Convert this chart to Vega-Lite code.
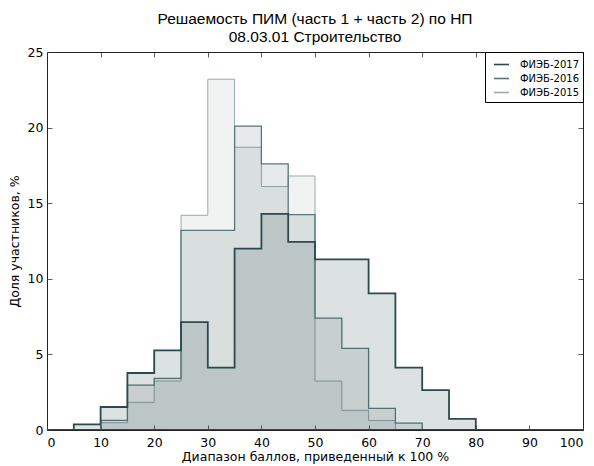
{
  "$schema": "https://vega.github.io/schema/vega-lite/v6.json",
  "width": 536,
  "height": 378,
  "autosize": {"type": "none"},
  "padding": {"left": 47, "top": 52, "right": 11, "bottom": 36},
  "background": "white",
  "config": {
    "view": {"stroke": "#222222", "strokeWidth": 1},
    "font": "DejaVu Sans",
    "axis": {"grid": false, "domain": false, "labelFont": "DejaVu Sans", "titleFont": "DejaVu Sans", "labelColor": "black", "titleColor": "black", "tickColor": "#333333", "labelFontSize": 12.5, "titleFontSize": 12.5, "titleFontWeight": "normal", "tickSize": -5, "tickWidth": 0.8}
  },
  "title": {
    "text": ["Решаемость ПИМ (часть 1 + часть 2) по НП", "08.03.01 Строительство"],
    "font": "Liberation Sans",
    "fontSize": 15.5,
    "fontWeight": "normal",
    "color": "black",
    "anchor": "middle",
    "lineHeight": 18,
    "offset": 1
  },
  "datasets": {
    "hist": [
      {"series": "ФИЭБ-2015", "x": 0, "y": 0}, {"series": "ФИЭБ-2015", "x": 5, "y": 0}, {"series": "ФИЭБ-2015", "x": 10, "y": 0.48}, {"series": "ФИЭБ-2015", "x": 15, "y": 1.83}, {"series": "ФИЭБ-2015", "x": 20, "y": 3.24}, {"series": "ФИЭБ-2015", "x": 25, "y": 14.2}, {"series": "ФИЭБ-2015", "x": 30, "y": 23.2}, {"series": "ФИЭБ-2015", "x": 35, "y": 18.7}, {"series": "ФИЭБ-2015", "x": 40, "y": 16.1}, {"series": "ФИЭБ-2015", "x": 45, "y": 16.8}, {"series": "ФИЭБ-2015", "x": 50, "y": 3.24}, {"series": "ФИЭБ-2015", "x": 55, "y": 1.3}, {"series": "ФИЭБ-2015", "x": 60, "y": 0.63}, {"series": "ФИЭБ-2015", "x": 65, "y": 0}, {"series": "ФИЭБ-2015", "x": 70, "y": 0}, {"series": "ФИЭБ-2015", "x": 75, "y": 0}, {"series": "ФИЭБ-2015", "x": 80, "y": 0}, {"series": "ФИЭБ-2015", "x": 85, "y": 0}, {"series": "ФИЭБ-2015", "x": 90, "y": 0}, {"series": "ФИЭБ-2015", "x": 95, "y": 0}, {"series": "ФИЭБ-2015", "x": 100, "y": 0},
      {"series": "ФИЭБ-2016", "x": 0, "y": 0}, {"series": "ФИЭБ-2016", "x": 5, "y": 0}, {"series": "ФИЭБ-2016", "x": 10, "y": 0.64}, {"series": "ФИЭБ-2016", "x": 15, "y": 2.97}, {"series": "ФИЭБ-2016", "x": 20, "y": 3.41}, {"series": "ФИЭБ-2016", "x": 25, "y": 13.2}, {"series": "ФИЭБ-2016", "x": 30, "y": 13.2}, {"series": "ФИЭБ-2016", "x": 35, "y": 20.1}, {"series": "ФИЭБ-2016", "x": 40, "y": 17.6}, {"series": "ФИЭБ-2016", "x": 45, "y": 14.25}, {"series": "ФИЭБ-2016", "x": 50, "y": 7.4}, {"series": "ФИЭБ-2016", "x": 55, "y": 5.4}, {"series": "ФИЭБ-2016", "x": 60, "y": 1.43}, {"series": "ФИЭБ-2016", "x": 65, "y": 0.46}, {"series": "ФИЭБ-2016", "x": 70, "y": 0}, {"series": "ФИЭБ-2016", "x": 75, "y": 0}, {"series": "ФИЭБ-2016", "x": 80, "y": 0}, {"series": "ФИЭБ-2016", "x": 85, "y": 0}, {"series": "ФИЭБ-2016", "x": 90, "y": 0}, {"series": "ФИЭБ-2016", "x": 95, "y": 0}, {"series": "ФИЭБ-2016", "x": 100, "y": 0},
      {"series": "ФИЭБ-2017", "x": 0, "y": 0}, {"series": "ФИЭБ-2017", "x": 5, "y": 0.37}, {"series": "ФИЭБ-2017", "x": 10, "y": 1.52}, {"series": "ФИЭБ-2017", "x": 15, "y": 3.77}, {"series": "ФИЭБ-2017", "x": 20, "y": 5.26}, {"series": "ФИЭБ-2017", "x": 25, "y": 7.14}, {"series": "ФИЭБ-2017", "x": 30, "y": 4.12}, {"series": "ФИЭБ-2017", "x": 35, "y": 12.0}, {"series": "ФИЭБ-2017", "x": 40, "y": 14.3}, {"series": "ФИЭБ-2017", "x": 45, "y": 12.44}, {"series": "ФИЭБ-2017", "x": 50, "y": 11.28}, {"series": "ФИЭБ-2017", "x": 55, "y": 11.28}, {"series": "ФИЭБ-2017", "x": 60, "y": 9.03}, {"series": "ФИЭБ-2017", "x": 65, "y": 4.12}, {"series": "ФИЭБ-2017", "x": 70, "y": 2.64}, {"series": "ФИЭБ-2017", "x": 75, "y": 0.73}, {"series": "ФИЭБ-2017", "x": 80, "y": 0}, {"series": "ФИЭБ-2017", "x": 85, "y": 0}, {"series": "ФИЭБ-2017", "x": 90, "y": 0}, {"series": "ФИЭБ-2017", "x": 95, "y": 0}, {"series": "ФИЭБ-2017", "x": 100, "y": 0}
    ]
  },
  "data": {"name": "hist"},
  "layer": [
    {
      "transform": [{"filter": "datum.series === 'ФИЭБ-2015'"}],
      "mark": {"type": "area", "interpolate": "step-after", "fill": "#2f4f4f", "fillOpacity": 0.065, "strokeWidth": 1.0, "clip": true},
      "encoding": {
        "x": {"field": "x", "type": "quantitative", "scale": {"domain": [0, 100], "nice": false}, "axis": {"orient": "bottom", "values": [0, 10, 20, 30, 40, 50, 60, 70, 80, 90, 100], "title": "Диапазон баллов, приведенный к 100 %", "labelPadding": 11, "titlePadding": 2}},
        "y": {"field": "y", "type": "quantitative", "stack": null, "scale": {"domain": [0, 25], "nice": false}, "axis": {"orient": "left", "values": [0, 5, 10, 15, 20, 25], "title": "Доля участников, %", "labelPadding": 9, "titlePadding": 6}},
        "stroke": {"field": "series", "type": "nominal", "scale": {"domain": ["ФИЭБ-2017", "ФИЭБ-2016", "ФИЭБ-2015"], "range": ["#2b4a50", "#58777a", "#97aaac"]},
          "legend": {"title": null, "orient": "top-right", "offset": 0, "fillColor": "white", "strokeColor": "black", "padding": 4, "symbolOffset": 4, "symbolType": "stroke", "symbolSize": 225, "symbolStrokeWidth": 1.6, "labelFont": "DejaVu Sans", "labelFontSize": 10, "labelColor": "black", "rowPadding": 0, "labelOffset": 10}}
      }
    },
    {
      "transform": [{"filter": "datum.series === 'ФИЭБ-2016'"}],
      "mark": {"type": "area", "interpolate": "step-after", "fill": "#2f4f4f", "fillOpacity": 0.12, "strokeWidth": 1.3, "clip": true},
      "encoding": {
        "x": {"field": "x", "type": "quantitative", "axis": null},
        "y": {"field": "y", "type": "quantitative", "stack": null, "axis": null},
        "stroke": {"field": "series", "type": "nominal"}
      }
    },
    {
      "transform": [{"filter": "datum.series === 'ФИЭБ-2017'"}],
      "mark": {"type": "area", "interpolate": "step-after", "fill": "#2f4f4f", "fillOpacity": 0.17, "strokeWidth": 1.8, "clip": true},
      "encoding": {
        "x": {"field": "x", "type": "quantitative", "axis": null},
        "y": {"field": "y", "type": "quantitative", "stack": null, "axis": null},
        "stroke": {"field": "series", "type": "nominal"}
      }
    },
    {
      "mark": {"type": "point", "opacity": 0},
      "encoding": {
        "x": {"field": "x", "type": "quantitative", "axis": {"orient": "top", "values": [0, 10, 20, 30, 40, 50, 60, 70, 80, 90, 100], "labels": false, "title": null}},
        "y": {"field": "y", "type": "quantitative", "axis": {"orient": "right", "values": [0, 5, 10, 15, 20, 25], "labels": false, "title": null}}
      }
    }
  ],
  "resolve": {"axis": {"x": "independent", "y": "independent"}}
}
